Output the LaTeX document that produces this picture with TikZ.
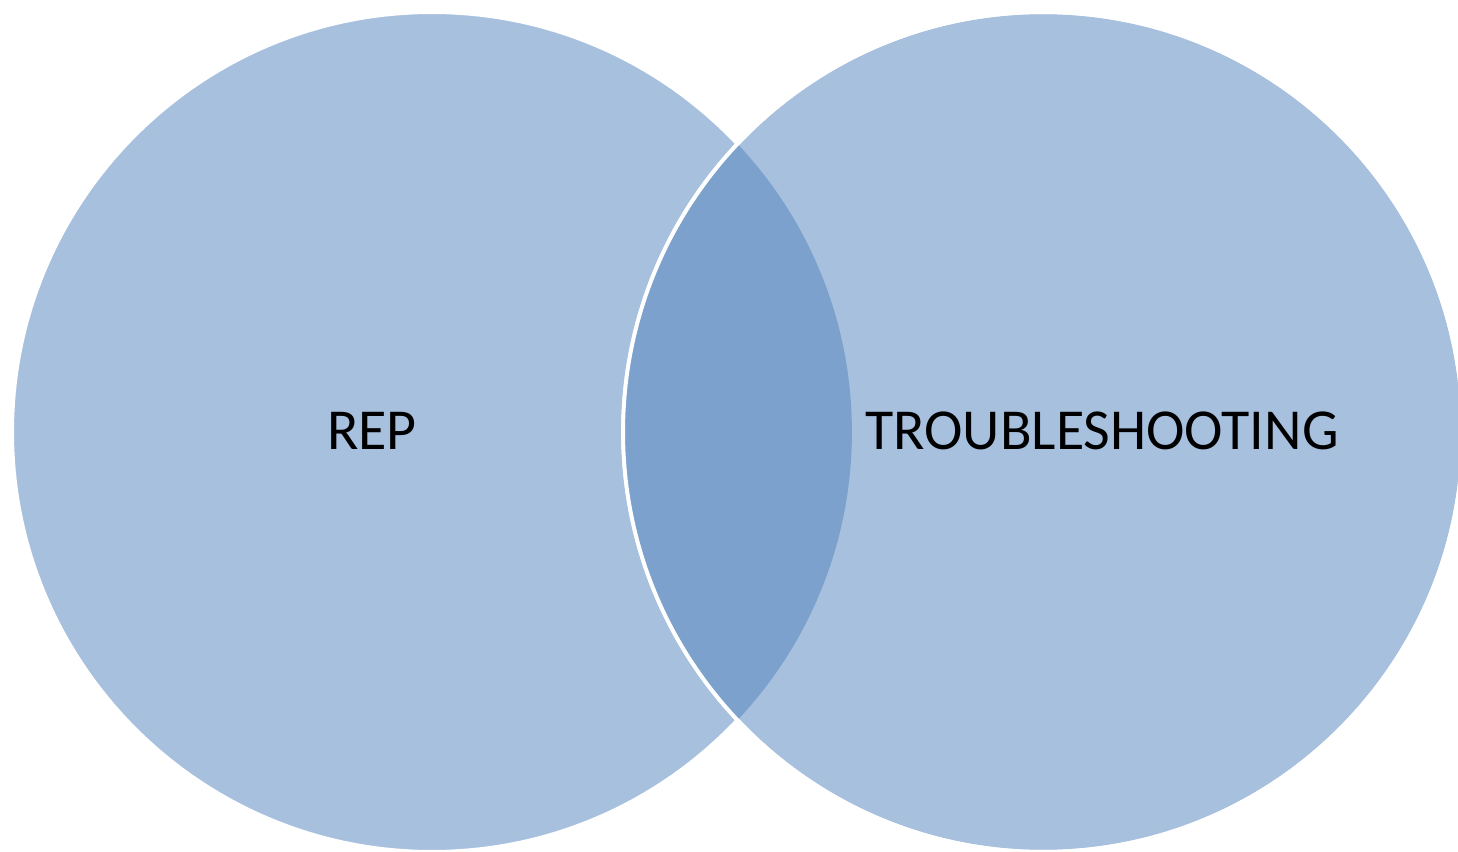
\documentclass[tikz,border=0pt]{standalone}
\usepackage{fontspec}
\setmainfont{Carlito}
\definecolor{vennlight}{HTML}{A7C0DE}
\definecolor{venndark}{HTML}{7CA1CC}

\begin{document}
\begin{tikzpicture}[x=0.02cm, y=-0.02cm,
    venn/.style ={circle, fill=vennlight, draw=white, line width=2.2pt, inner sep=0pt, minimum size=16.8cm},
    setname/.style ={font=\fontsize{33}{40}\selectfont, text=black}]
   \useasboundingbox (0,0) rectangle (1458,852);
   \node[venn] (R) at (432,432) {};
   \node[venn] (T) at (1043,432) {};
   % overlap
   \begin{scope}
     \clip (R.center) circle (8.4cm);
     \fill[venndark] (T.center) circle (8.4cm);
   \end{scope}
   \draw[white, line width=2.2pt] (T.center) circle (8.4cm);
   \node[setname] (Rlabel) at (372,431) {REP};
   \node[setname] (Tlabel) at (1102,431) {TROUBLESHOOTING};
\end{tikzpicture}
\end{document}
